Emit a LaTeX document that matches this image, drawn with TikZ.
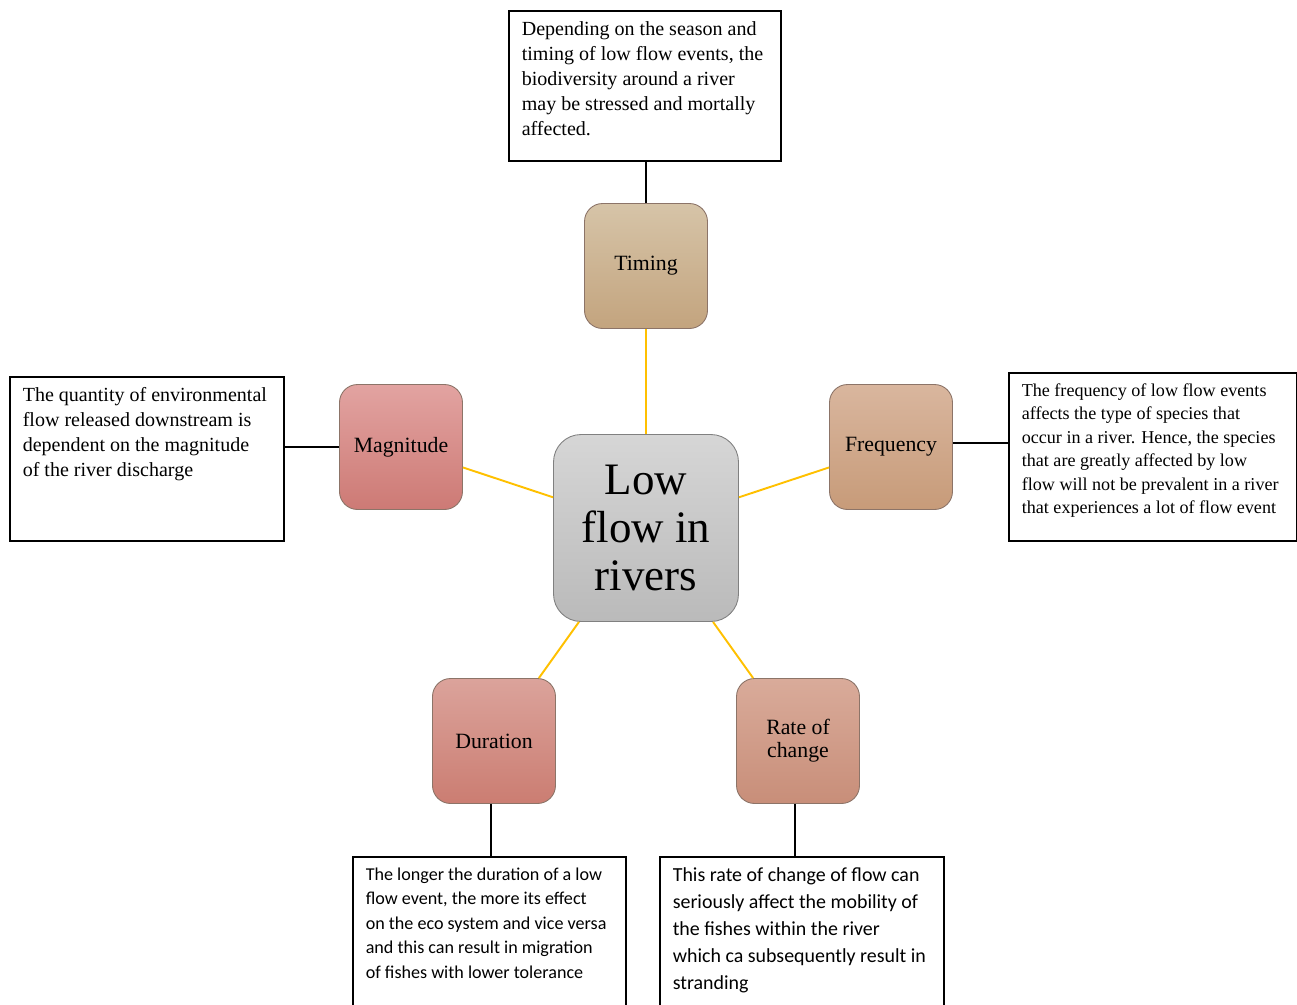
\documentclass[tikz,border=0pt]{standalone}
\usepackage{fontspec}
\setmainfont{Liberation Serif}
\newfontfamily\timesfont{Liberation Serif}
\newfontfamily\calibrifont{Carlito}
\usepackage{xcolor}
\usepackage{tikz}

\definecolor{linkgold}{HTML}{FFC000}
\definecolor{topicedge}{HTML}{8C7468}
\definecolor{hubtop}{HTML}{D6D6D6}
\definecolor{hubbot}{HTML}{BABABA}
\definecolor{timtop}{HTML}{D6C4A8}
\definecolor{timbot}{HTML}{C3A47E}
\definecolor{fretop}{HTML}{D9B69E}
\definecolor{frebot}{HTML}{C79B79}
\definecolor{magtop}{HTML}{E2A3A1}
\definecolor{magbot}{HTML}{CD7A75}
\definecolor{durtop}{HTML}{DBA39B}
\definecolor{durbot}{HTML}{CB7D72}
\definecolor{ratop}{HTML}{D9AB9A}
\definecolor{ratbot}{HTML}{C88E79}

\begin{document}
\begin{tikzpicture}[x=0.02cm, y=-0.02cm, every node/.style={inner sep=0pt},
  topic/.style={draw=topicedge, line width=0.5pt, rounded corners=0.36cm, minimum width=2.46cm, minimum height=2.5cm, align=center, font=\fontsize{12.4}{13}\selectfont},
  hub/.style={topic, rounded corners=0.55cm, minimum width=3.7cm, minimum height=3.74cm, top color=hubtop, bottom color=hubbot, draw=gray, font=\fontsize{25.6}{27.2}\selectfont},
  note/.style={draw, line width=0.9pt, anchor=north west, inner xsep=0.26cm, inner ysep=0.22cm},
  link/.style={draw=linkgold, line width=1.1pt},
  tie/.style={draw, line width=1.6pt}]
\useasboundingbox (0,0) rectangle (1297,1004);
% Points
\node[hub] (low) at (646,528) {Low\\flow in\\rivers};
\node[topic, top color=timtop, bottom color=timbot] (timing) at (646,266) {Timing};
\node[topic, top color=magtop, bottom color=magbot] (magnitude) at (401,447) {Magnitude};
\node[topic, top color=fretop, bottom color=frebot] (frequency) at (891,447) {Frequency};
\node[topic, top color=durtop, bottom color=durbot] (duration) at (494,741) {Duration};
\node[topic, top color=ratop, bottom color=ratbot] (rate) at (798,741) {Rate of\\change};

% Notes
\node[note] (tnote) at (508,10) {\parbox[t][2.56cm][t]{4.92cm}{\raggedright\timesfont\fontsize{11.4}{14.2}\selectfont
Depending on the season and\\timing of low flow events, the\\biodiversity around a river\\may be stressed and mortally\\affected.}};
\node[note] (mnote) at (9,376) {\parbox[t][2.84cm][t]{4.96cm}{\raggedright\timesfont\fontsize{11.4}{14.2}\selectfont
The quantity of environmental\\flow released downstream is\\dependent on the magnitude\\of the river discharge}};
\node[note] (fnote) at (1008,372) {\parbox[t][2.92cm][t]{5.24cm}{\raggedright\timesfont\fontsize{10.3}{13.3}\selectfont
The frequency of low flow events\\affects the type of species that\\occur in a river. Hence, the species\\that are greatly affected by low\\flow will not be prevalent in a river\\that experiences a lot of flow event}};
\node[note] (dnote) at (352,856) {\parbox[t][3.4cm][t]{4.94cm}{\raggedright\calibrifont\fontsize{10.3}{13.9}\selectfont
The longer the duration of a low\\flow event, the more its effect\\on the eco system and vice versa\\and this can result in migration\\of fishes with lower tolerance}};
\node[note] (rnote) at (659,856) {\parbox[t][3.4cm][t]{5.16cm}{\raggedright\calibrifont\fontsize{11.35}{15.3}\selectfont
This rate of change of flow can\\seriously affect the mobility of\\the fishes within the river\\which ca subsequently result in\\stranding}};

%Lines
\draw[link] (low) -- (timing);
\draw[link] (low) -- (magnitude);
\draw[link] (low) -- (frequency);
\draw[link] (low) -- (duration);
\draw[link] (low) -- (rate);
\draw[tie] (timing.north) -- (timing.north |- tnote.south);
\draw[tie] (magnitude.west) -- (magnitude.west -| mnote.east);
\draw[tie] ([yshift=0.08cm]frequency.east) -- ([yshift=0.08cm]frequency.east -| fnote.west);
\draw[tie] ([xshift=-0.06cm]duration.south) -- ([xshift=-0.06cm]duration.south |- dnote.north);
\draw[tie] ([xshift=-0.06cm]rate.south) -- ([xshift=-0.06cm]rate.south |- rnote.north);
\end{tikzpicture}
\end{document}
